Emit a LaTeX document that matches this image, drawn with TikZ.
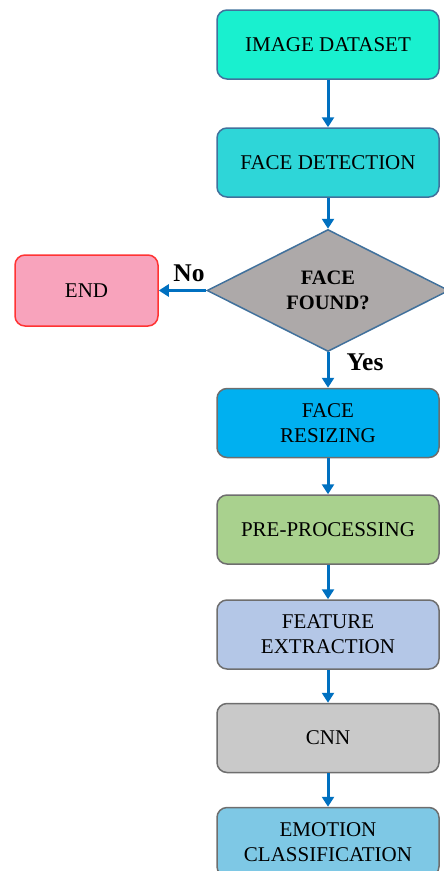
\documentclass[tikz,border=0pt]{standalone}
\usepackage{fontspec}
\setmainfont{Liberation Serif}
\usetikzlibrary{shapes.geometric,arrows.meta}
\definecolor{cImg}{HTML}{19F0CF}
\definecolor{cDet}{HTML}{2ED6D8}
\definecolor{cRes}{HTML}{00B0F0}
\definecolor{cPre}{HTML}{A9D18E}
\definecolor{cFeat}{HTML}{B4C7E7}
\definecolor{cCnn}{HTML}{C9C9C9}
\definecolor{cEmo}{HTML}{7EC8E5}
\definecolor{cEnd}{HTML}{F8A3BC}
\definecolor{cEndB}{HTML}{FF3333}
\definecolor{cDia}{HTML}{ADA9A9}
\definecolor{cBlueB}{HTML}{41719C}
\definecolor{cGreyB}{HTML}{6E6E6E}
\definecolor{cArr}{HTML}{0070C0}
\begin{document}
\begin{tikzpicture}[x=1pt,y=-1pt,
  box/.style={draw, line width=1.5pt, rounded corners=10pt, minimum width=222pt, minimum height=69pt,
    inner sep=0pt, align=center, font=\fontsize{21}{25}\selectfont, text=black},
  flow/.style={draw=cArr, line width=3pt, -{Triangle[width=12pt,length=10pt]}},
  lbl/.style={font=\fontsize{25.5}{30}\selectfont\bfseries, text=black}
]
\useasboundingbox (0,0) rectangle (444,871);
\node[box, fill=cImg, draw=cBlueB] (img) at (328,44.5) {IMAGE DATASET};
\node[box, fill=cDet, draw=cBlueB] (det) at (328,162.5) {FACE DETECTION};
\node[diamond, draw=cBlueB, line width=1.5pt, fill=cDia, minimum width=242pt, minimum height=115pt,
  inner sep=0pt, align=center, font=\fontsize{20.5}{25}\selectfont\bfseries] (dia) at (328,290.5) {FACE\\FOUND?};
\node[box, fill=cEnd, draw=cEndB, minimum width=143pt, minimum height=71pt] (end) at (86.5,290.5) {END};
\node[box, fill=cRes, draw=cGreyB] (res) at (328,423) {FACE\\RESIZING};
\node[box, fill=cPre, draw=cGreyB] (pre) at (328,529.5) {PRE-PROCESSING};
\node[box, fill=cFeat, draw=cGreyB] (feat) at (328,634.5) {FEATURE\\EXTRACTION};
\node[box, fill=cCnn, draw=cGreyB] (cnn) at (328,738) {CNN};
\node[box, fill=cEmo, draw=cGreyB] (emo) at (328,842) {EMOTION\\CLASSIFICATION};
\draw[flow] (img) -- (det);
\draw[flow] (det) -- (dia);
\draw[flow] (dia) -- (end);
\draw[flow] (dia) -- (res);
\draw[flow] (res) -- (pre);
\draw[flow] (pre) -- (feat);
\draw[flow] (feat) -- (cnn);
\draw[flow] (cnn) -- (emo);
\node[lbl] (no) at (189,273) {No};
\node[lbl] (yes) at (365,362) {Yes};
\end{tikzpicture}
\end{document}
